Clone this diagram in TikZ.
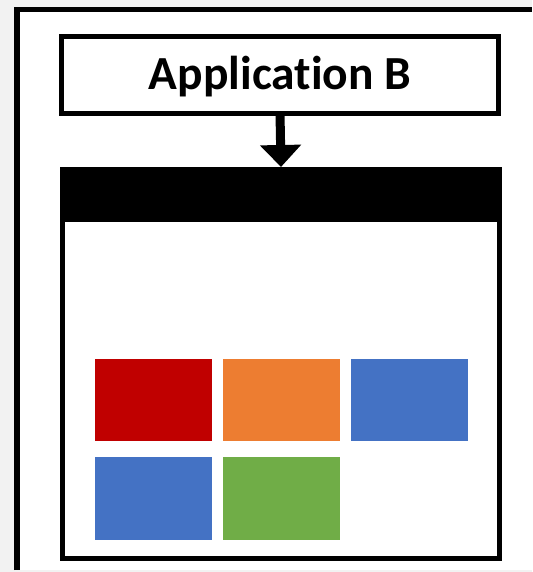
\documentclass[tikz,border=0pt]{standalone}
\usepackage{fontspec}
\setmainfont{Carlito}[Ligatures={NoCommon}]
\usetikzlibrary{arrows.meta}
\definecolor{bggrey}{HTML}{F2F2F2}
\definecolor{cred}{HTML}{C00000}
\definecolor{corange}{HTML}{ED7D31}
\definecolor{cblue}{HTML}{4472C4}
\definecolor{cgreen}{HTML}{70AD47}
\begin{document}
\begin{tikzpicture}[x=1pt,y=-1pt,
  framebox/.style={draw=black,line width=5pt,fill=white,inner sep=0pt,outer sep=0pt},
  tile/.style={draw=none,inner sep=0pt,outer sep=0pt,minimum width=117pt,minimum height=82.5pt},
  conn/.style={line width=9pt,-{Triangle[width=40pt,length=22pt]}}]
\useasboundingbox (0,0) rectangle (532,572);
\fill[bggrey] (0,0) rectangle (532,572);
\fill[white] (14,7) rectangle (532,570);
\draw[line width=5.5pt] (17,570) -- (17,9.75) -- (532,9.75);
\node[framebox,minimum width=437pt,minimum height=77pt,text height=30pt,text depth=0pt,font=\bfseries\fontsize{47.5}{50}\selectfont] (app) at (280,74.6) {Application B};
\node[framebox,minimum width=437pt,minimum height=389pt] (win) at (281,364) {};
\node[fill=black,inner sep=0pt,outer sep=0pt,minimum width=442pt,minimum height=55pt] (bar) at (281,194.5) {};
\draw[conn] (app.south) -- (bar.north);
\node[tile,fill=cred] (t1) at (153.5,400) {};
\node[tile,fill=corange] (t2) at (281.5,400) {};
\node[tile,fill=cblue] (t3) at (409.5,400) {};
\node[tile,fill=cblue] (t4) at (153.5,498.5) {};
\node[tile,fill=cgreen] (t5) at (281.5,498.5) {};
\end{tikzpicture}
\end{document}
